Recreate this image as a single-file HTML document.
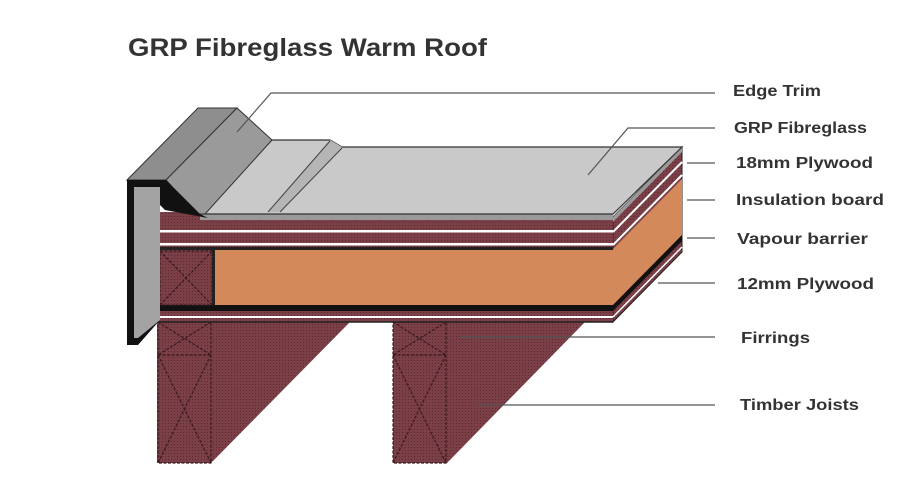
<!DOCTYPE html>
<html><head><meta charset="utf-8"><style>
html,body{margin:0;padding:0;background:#fff;width:907px;height:491px;overflow:hidden}
svg{display:block}
text{font-family:"Liberation Sans","DejaVu Sans",sans-serif;font-weight:bold;fill:#333}
</style></head><body>
<svg width="907" height="491" viewBox="0 0 907 491" xmlns="http://www.w3.org/2000/svg">
<defs>
<pattern id="tx" width="3" height="3" patternUnits="userSpaceOnUse">
<rect width="3" height="3" fill="#7b3f47"/><rect width="1" height="1" fill="#5e2a32"/>
</pattern>
</defs>
<text x="128" y="56" font-size="25" textLength="359" lengthAdjust="spacingAndGlyphs">GRP Fibreglass Warm Roof</text>

<!-- joists -->
<polygon points="157,322 350,322 211,463 157,463" fill="url(#tx)"/>
<polygon points="393,322 585,322 447,463 393,463" fill="url(#tx)"/>
<g stroke="#3a1a1e" stroke-width="1.2" fill="none" stroke-dasharray="3,1.5">
<rect x="158" y="322" width="53" height="141"/>
<line x1="158" y1="355" x2="211" y2="355"/>
<line x1="158" y1="322" x2="211" y2="355"/><line x1="211" y1="322" x2="158" y2="355"/>
<line x1="158" y1="355" x2="211" y2="463"/><line x1="211" y1="355" x2="158" y2="463"/>
<rect x="393" y="322" width="53" height="141"/>
<line x1="393" y1="355" x2="446" y2="355"/>
<line x1="393" y1="322" x2="446" y2="355"/><line x1="446" y1="322" x2="393" y2="355"/>
<line x1="393" y1="355" x2="446" y2="463"/><line x1="446" y1="355" x2="393" y2="463"/>
</g>

<!-- side face -->
<polygon points="613,217 682,147 682,252 613,322" fill="url(#tx)" stroke="#222" stroke-width="1"/>
<polygon points="613,222 682,152 682,147 613,217" fill="#9a9a9a"/>
<line x1="613" y1="232" x2="682" y2="162" stroke="#fff" stroke-width="2"/>
<line x1="613" y1="245" x2="682" y2="175" stroke="#fff" stroke-width="2"/>
<polygon points="613,249 682,179 682,235 613,305" fill="#d4895a"/>
<polygon points="613,305 682,235 682,241 613,311" fill="#111"/>
<line x1="613" y1="317" x2="682" y2="247" stroke="#fff" stroke-width="1.5"/>

<!-- front face -->
<rect x="157" y="212" width="456" height="110" fill="url(#tx)"/>
<rect x="200" y="212" width="413" height="8" fill="#9a9a9a"/>
<rect x="157" y="230" width="456" height="2.5" fill="#fff"/>
<rect x="157" y="243" width="456" height="2.5" fill="#fff"/>
<rect x="157" y="247" width="456" height="3" fill="#222"/>
<rect x="215" y="250" width="398" height="55" fill="#d4895a"/>
<rect x="212" y="250" width="3" height="55" fill="#222"/>
<rect x="157" y="305" width="456" height="6" fill="#111"/>
<rect x="157" y="316" width="456" height="2" fill="#fff"/>
<line x1="157" y1="322" x2="613" y2="322" stroke="#222" stroke-width="1.5"/>
<g stroke="#3a1a1e" stroke-width="1.2" fill="none" stroke-dasharray="3,1.5">
<rect x="160" y="251" width="52" height="54"/>
<line x1="160" y1="251" x2="212" y2="305"/><line x1="212" y1="251" x2="160" y2="305"/>
</g>

<!-- membrane top -->
<polygon points="200,214 272,140 330,140 342,147 682,147 613,214" fill="#c9c9c9" stroke="#333" stroke-width="1.2"/>
<polygon points="268,212 330,140 342,147 280,212" fill="#b5b5b5"/>
<line x1="268" y1="212" x2="330" y2="141" stroke="#444" stroke-width="1"/>
<line x1="280" y1="212" x2="342" y2="148" stroke="#444" stroke-width="1"/>

<!-- edge trim -->
<polygon points="127,180 198,108 237,108 166,180" fill="#8e8e8e" stroke="#333" stroke-width="1"/>
<polygon points="166,180 237,108 272,140 205,214 196,214" fill="#9a9a9a" stroke="#333" stroke-width="1"/>
<polygon points="127,180 166,180 200,214 208,218 165,210 160,205 160,320 138,345 127,345" fill="#111"/>
<polygon points="134,187 160,187 160,320 138,338 134,338" fill="#a3a3a3"/>

<!-- leaders -->
<g stroke="#555" stroke-width="1.2" fill="none">
<polyline points="237,132 271,93 715,93"/>
<polyline points="588,175 628,128 715,128"/>
<line x1="687" y1="163" x2="715" y2="163"/>
<line x1="687" y1="200" x2="715" y2="200"/>
<line x1="687" y1="238" x2="715" y2="238"/>
<line x1="658" y1="283" x2="715" y2="283"/>
<line x1="460" y1="337" x2="715" y2="337"/>
<line x1="477" y1="405" x2="715" y2="405"/>
</g>
<g font-size="16">
<text x="733" y="96" textLength="88" lengthAdjust="spacingAndGlyphs">Edge Trim</text>
<text x="734" y="133" textLength="133" lengthAdjust="spacingAndGlyphs">GRP Fibreglass</text>
<text x="736" y="168" textLength="137" lengthAdjust="spacingAndGlyphs">18mm Plywood</text>
<text x="736" y="205" textLength="148" lengthAdjust="spacingAndGlyphs">Insulation board</text>
<text x="737" y="244" textLength="131" lengthAdjust="spacingAndGlyphs">Vapour barrier</text>
<text x="737" y="289" textLength="137" lengthAdjust="spacingAndGlyphs">12mm Plywood</text>
<text x="741" y="343" textLength="69" lengthAdjust="spacingAndGlyphs">Firrings</text>
<text x="740" y="410" textLength="119" lengthAdjust="spacingAndGlyphs">Timber Joists</text>
</g>
</svg>
</body></html>
